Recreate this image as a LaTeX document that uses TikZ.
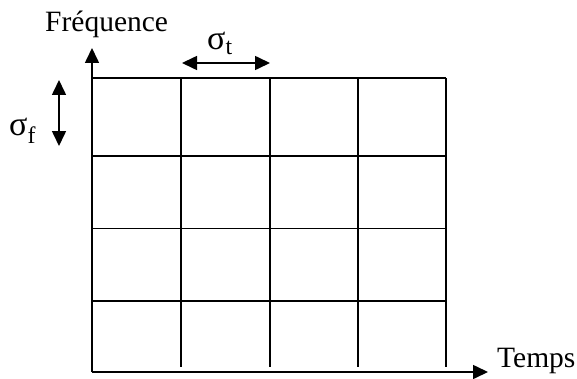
\documentclass[tikz,border=0pt]{standalone}
\usepackage{fontspec}
\setmainfont{Liberation Serif}
\usetikzlibrary{arrows.meta}
\tikzset{
	axisline/.style={line width=1.6pt, -{Triangle[length=15pt, width=14pt]}},
	gridline/.style={line width=1.6pt},
	spanarrow/.style={line width=1.6pt, {Triangle[length=15pt, width=14pt]}-{Triangle[length=15pt, width=14pt]}},
	lbl/.style={font=\fontsize{29.5}{32}\selectfont, inner sep=0pt},
	siglbl/.style={font=\fontsize{34}{36}\selectfont, inner sep=0pt},
}
\begin{document}
\begin{tikzpicture}[x=1pt, y=1pt]
	\useasboundingbox (0,0) rectangle (577,378);
	% axes
	\coordinate (O) at (92,6);
	\coordinate (ytip) at (92,330);
	\coordinate (xtip) at (488,6);
	\draw[axisline] (O) -- (ytip);
	\draw[axisline] (O) -- (xtip);
	\node[lbl, anchor=base west] (freq) at (45,346) {Fréquence};
	\node[lbl, anchor=base west] (temps) at (497,11) {Temps};
	% grid
	\foreach \yy/\idx in {300/0, 222/1, 149.5/2, 77/3} {
		\coordinate (hl\idx) at (92,\yy);
		\coordinate (hr\idx) at (446,\yy);
		\draw[gridline] (hl\idx) -- (hr\idx);
	}
	\foreach \xx/\idx in {181/1, 270/2, 358/3, 446/4} {
		\coordinate (vt\idx) at (\xx,300);
		\coordinate (vb\idx) at (\xx,11);
		\draw[gridline] (vt\idx) -- (vb\idx);
	}
	% resolution arrows
	\coordinate (st0) at (182,315);
	\coordinate (st1) at (270,315);
	\draw[spanarrow] (st0) -- (st1);
	\node[siglbl, anchor=base west] (sigt) at (207,328) {σ\textsubscript{t}};
	\coordinate (sf0) at (59,298);
	\coordinate (sf1) at (59,232);
	\draw[spanarrow] (sf0) -- (sf1);
	\node[siglbl, anchor=base west] (sigf) at (9,243) {σ\textsubscript{f}};
\end{tikzpicture}
\end{document}
